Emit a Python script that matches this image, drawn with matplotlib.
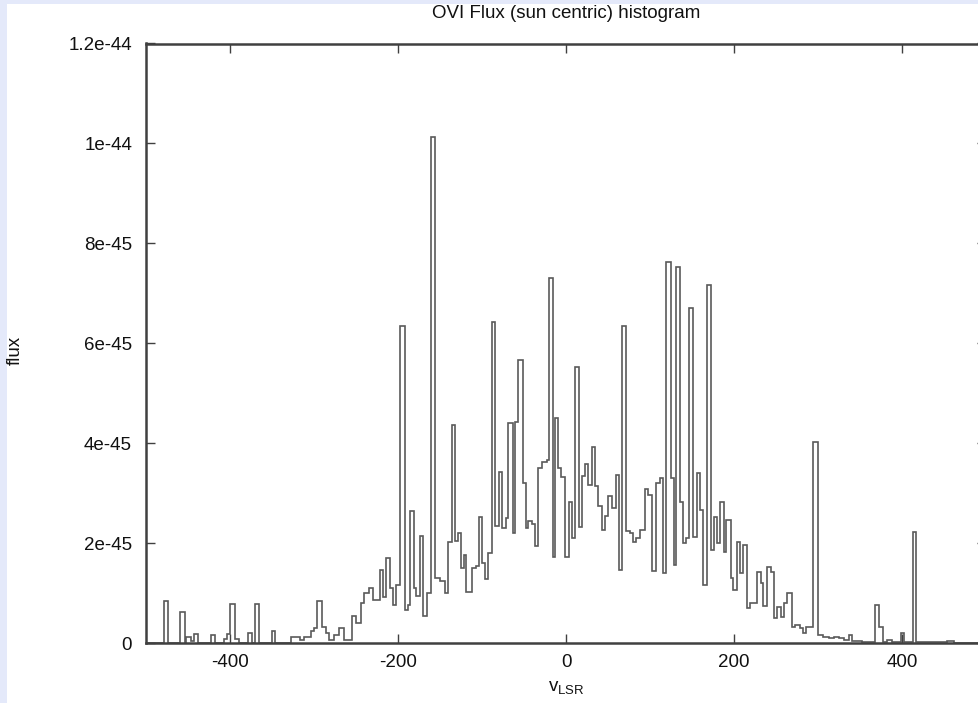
import matplotlib
matplotlib.use("Agg")
import matplotlib.pyplot as plt
from matplotlib.patches import Rectangle
import numpy as np

# ---- data ----
title = "OVI Flux (sun centric) histogram"
x_label = r"v$_\mathregular{LSR}$"
y_label = "flux"
x_ticks = [-400, -200, 0, 200, 400]
y_ticks = [0, 2e-45, 4e-45, 6e-45, 8e-45, 1e-44, 1.2e-44]
y_tick_labels = ["0", "2e-45", "4e-45", "6e-45", "8e-45", "1e-44", "1.2e-44"]

# left edges of the histogram steps (km/s) and flux in units of 1e-45
bin_left = [
    -500, -478, -474, -459, -454, -452, -447, -443, -438, -423, -418, -407, -403,
    -400, -394, -389, -379, -374, -370, -365, -350, -346, -327, -317, -312, -304,
    -300, -296, -290, -286, -282, -276, -270, -264, -255, -250, -244, -240, -234,
    -230, -222, -218, -214, -209, -206, -202, -198, -192, -188, -186, -181, -178,
    -174, -170, -165, -160.5, -155.5, -150.5, -144.5, -140.5, -136, -132.5, -128.5,
    -124.5, -121.5, -118.5, -112.5, -107, -104, -100.5, -96.5, -92.5, -88.5, -84.5,
    -80, -76.5, -72, -68.5, -63.5, -61, -57.5, -51.5, -47.5, -45, -41, -37, -33,
    -29, -23, -20.5, -15.5, -13, -9, -5.5, -1, 3, 7, 10.5, 15.5, 19, 22.5, 26.5,
    30.5, 34.5, 38.5, 42.5, 46.5, 50.5, 55, 59, 63, 67, 72, 76.5, 79.5, 83.5, 87.5,
    94, 98, 102.5, 107.5, 111.5, 115, 119, 124.5, 128.5, 131, 136, 139.5, 143, 146,
    151, 155.5, 160, 163.5, 167.5, 172.5, 176, 180, 183.5, 187.5, 191, 196, 199,
    203, 207, 211, 215, 219.5, 227.5, 232, 235, 239.5, 244, 248, 251.5, 255.5, 259,
    263.5, 268.5, 273, 278, 282, 286, 294.5, 300.5, 306.5, 312.5, 318.5, 324.5,
    330.5, 336.5, 340.5, 352.5, 367.5, 373, 377, 382, 388, 399, 402, 413, 417,
    453.5, 461.5,
]
bin_right_end = 500
flux_e45 = [
    0, 0.85, 0, 0.62, 0, 0.13, 0.05, 0.19, 0, 0.17, 0, 0.08, 0.18,
    0.78, 0.08, 0, 0.2, 0, 0.78, 0, 0.25, 0, 0.13, 0.07, 0.13, 0.25,
    0.3, 0.85, 0.33, 0.2, 0.07, 0.17, 0.3, 0.07, 0.55, 0.4, 0.8, 1.0, 1.1,
    0.87, 1.47, 0.93, 1.7, 1.1, 0.77, 1.17, 6.35, 0.67, 0.77, 2.65, 1.1, 0.95,
    2.15, 0.55, 1.0, 10.13, 1.3, 1.25, 1.0, 2.03, 4.37, 2.05, 2.2,
    1.5, 1.77, 1.03, 1.5, 1.55, 2.53, 1.6, 1.28, 1.8, 6.43, 2.35,
    3.43, 2.3, 2.5, 4.4, 2.2, 4.43, 5.67, 3.2, 2.3, 2.45, 2.38, 1.95, 3.5,
    3.63, 3.67, 7.3, 1.73, 4.5, 3.5, 3.33, 1.73, 2.83, 2.1, 5.53, 2.33, 3.35, 3.58,
    3.17, 3.92, 3.15, 2.75, 2.27, 2.55, 2.95, 2.7, 3.37, 1.47, 6.35, 2.25, 2.2, 2.03, 2.1,
    2.27, 3.08, 2.97, 1.45, 3.2, 3.3, 1.4, 7.63, 3.3, 1.57, 7.52, 2.83, 2.0, 2.1,
    6.7, 2.13, 3.4, 2.67, 1.17, 7.17, 1.87, 2.53, 2.0, 2.83, 1.83, 2.47, 1.3,
    1.07, 2.03, 1.4, 1.97, 0.7, 0.8, 1.43, 1.2, 0.75, 1.53, 1.43, 0.5, 0.73, 0.53,
    0.8, 1.0, 0.33, 0.37, 0.3, 0.2, 0.33, 4.03, 0.17, 0.13, 0.1, 0.12,
    0.1, 0.07, 0.17, 0.05, 0.03, 0.77, 0.33, 0.03, 0.07, 0.02, 0.2, 0.02, 2.23,
    0.02, 0.05, 0,
]

edges = np.array(bin_left + [bin_right_end], dtype=float)
flux = np.array(flux_e45) * 1e-45

# ---- figure ----
W, H, DPI = 979, 703, 100
FS = 13.5
plt.rcParams["font.family"] = ["Liberation Sans", "DejaVu Sans"]
fig = plt.figure(figsize=(W / DPI, H / DPI), dpi=DPI)
fig.patch.set_facecolor("#e4e9fa")
# white canvas inset (screenshot framing)
canvas = Rectangle((7 / W, 0), 1, 1 - 4 / H, transform=fig.transFigure,
                   facecolor="white", edgecolor="none", zorder=-10)
fig.patches.append(canvas)

ax_left, ax_right = 146, 986
ax_top, ax_bottom = 43.5, 643
ax = fig.add_axes([ax_left / W, (H - ax_bottom) / H,
                   (ax_right - ax_left) / W, (ax_bottom - ax_top) / H])
ax.set_zorder(1)
ax.set_facecolor("white")

ax.stairs(flux, edges, color="#5a5a5a", linewidth=1.2, baseline=None)

ax.set_xlim(-500, 500)
ax.set_ylim(0, 1.2e-44)
ax.set_xticks(x_ticks)
ax.set_xticklabels([str(t) for t in x_ticks], fontsize=FS)
ax.set_yticks(y_ticks)
ax.set_yticklabels(y_tick_labels, fontsize=FS)

ax.tick_params(direction="in", length=6.5, width=1.0, color="#404040",
               top=True, right=True, labelcolor="#111111")
ax.tick_params(axis="y", pad=10)
ax.tick_params(axis="x", pad=8)
for s in ax.spines.values():
    s.set_color("#404040")
    s.set_linewidth(1.8)

fig.text(566 / W, 1 - 14 / H, title, ha="center", va="center", fontsize=FS, color="#111111")
fig.text(15 / W, 1 - 350 / H, y_label, rotation=90, ha="center", va="center",
         fontsize=FS, color="#111111")
fig.text(566 / W, 1 - 688 / H, x_label, ha="center", va="center", fontsize=FS,
         color="#111111")

fig.savefig("out.png", dpi=DPI, facecolor=fig.get_facecolor())
